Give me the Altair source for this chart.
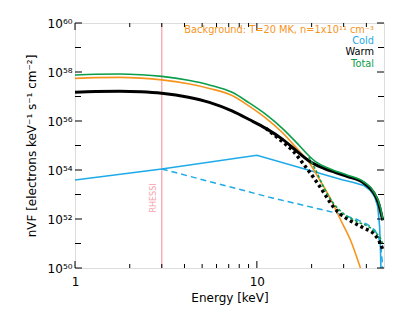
import altair as alt
import pandas as pd

# ---------------- data ----------------
# energies in keV, values are log10 of nVF [electrons keV^-1 s^-1 cm^-2]
bg_E = [1, 1.3, 1.76, 2.3, 3, 4.2, 5.48, 7.35, 9.07, 11.2, 13.8, 17.0, 19.3, 21.9, 25.4, 28.8, 32.7, 37.1]
bg_L = [57.74, 57.77, 57.78, 57.75, 57.68, 57.52, 57.33, 57.03, 56.61, 56.12, 55.53, 54.79, 54.33, 53.66, 52.82, 51.98, 51.14, 50.0]

cold_E = [1, 3, 10, 23.35, 29.4, 34.0, 38.7, 42.0, 44.5, 46.2, 47.3, 47.8, 48.1]
cold_L = [53.59, 54.04, 54.60, 53.82, 53.60, 53.49, 53.37, 53.17, 52.90, 52.50, 51.70, 50.80, 50.0]

cold2_E = [3, 11.7, 28.2, 35.0, 40.5, 44.5, 46.7, 48.0, 48.8, 49.1]
cold2_L = [54.04, 52.89, 52.22, 52.00, 51.78, 51.55, 51.25, 50.85, 50.35, 50.0]

warm_E = [1, 1.3, 1.76, 2.3, 3, 4.2, 5.48, 7.35, 9.07, 11.2, 13.8, 17.0, 19.3, 21.0, 23.35, 26.5, 31.3, 38.7, 43.9, 46.7, 48.7, 49.3]
warm_L = [57.17, 57.20, 57.21, 57.19, 57.13, 56.97, 56.76, 56.40, 56.06, 55.70, 55.26, 54.70, 54.38, 54.22, 54.07, 53.92, 53.74, 53.47, 53.07, 52.64, 52.09, 51.95]

warm2_E = [11.2, 13.8, 15.7, 17.8, 20.2, 21.9, 23.9, 26.5, 28.8, 32.7, 38.7, 43.9, 47.7, 49.3]
warm2_L = [55.70, 55.16, 54.80, 54.30, 53.76, 53.39, 52.96, 52.47, 52.20, 51.93, 51.63, 51.40, 51.01, 50.73]

total_E = [1, 1.3, 1.76, 2.3, 3, 4.2, 5.48, 7.35, 9.07, 11.2, 13.8, 17.0, 19.3, 21.0, 23.35, 26.5, 31.3, 38.7, 43.9, 47.7, 49.3]
total_L = [57.88, 57.91, 57.92, 57.89, 57.82, 57.66, 57.47, 57.16, 56.74, 56.27, 55.70, 55.02, 54.58, 54.34, 54.15, 53.98, 53.80, 53.52, 53.11, 52.50, 51.96]

total2_E = [19.3, 21.0, 23.35, 26.5, 29.7, 35.5, 43.9, 48.7, 49.3]
total2_L = [54.52, 54.02, 53.28, 52.62, 52.24, 51.90, 51.52, 51.07, 50.95]

rhessi_E = [3]

x_major = [1, 10]
x_minor = [2, 3, 4, 5, 6, 7, 8, 9, 20, 30, 40]
y_major_exp = [50, 52, 54, 56, 58, 60]
y_minor_exp = [51, 53, 55, 57, 59]
y_labels = ["10⁵⁰", "10⁵²", "10⁵⁴", "10⁵⁶", "10⁵⁸", "10⁶⁰"]

legend_bg = "Background: T=20 MK, n=1x10¹¹ cm⁻³"
legend_cold = "Cold"
legend_warm = "Warm"
legend_total = "Total"

# ---------------- styling ----------------
ORANGE = "#f7941d"
BLUE = "#1eaae7"
GREEN = "#0a9e4a"
BLACK = "#000000"
PINK = "#f5a3ae"
FONT = "DejaVu Sans"
W, H = 309, 245

series = [
    ("cold2", cold2_E, cold2_L, BLUE, 1.5, [6, 4], "linear"),
    ("cold", cold_E, cold_L, BLUE, 1.6, None, "linear"),
    ("bg", bg_E, bg_L, ORANGE, 1.6, None, "monotone"),
    ("warm2", warm2_E, warm2_L, BLACK, 3.5, [3, 3], "monotone"),
    ("warm", warm_E, warm_L, BLACK, 3.0, None, "monotone"),
    ("total2", total2_E, total2_L, GREEN, 1.6, [3, 2], "monotone"),
    ("total", total_E, total_L, GREEN, 1.6, None, "monotone"),
]

xs = alt.Scale(type="log", domain=[1, 50], nice=False)
ys = alt.Scale(type="log", domain=[1e50, 1e60], nice=False)

label_array = "[" + ",".join("'" + s + "'" for s in y_labels) + "]"

xaxis = alt.Axis(values=x_major, labelExpr="format(datum.value, 'd')", ticks=False, domain=False,
                 grid=False, labelFontSize=12, labelFont=FONT, labelColor="black", labelPadding=8,
                 labelFlush=False, labelOverlap=False,
                 title="Energy [keV]", titleFont=FONT, titleFontSize=12, titleFontWeight="normal",
                 titleColor="black", titlePadding=5)
yaxis = alt.Axis(values=[10.0 ** e for e in y_major_exp],
                 labelExpr=label_array + "[round((log(datum.value)/LN10 - 50)/2)]",
                 ticks=False, domain=False, grid=False, labelFontSize=12, labelFont=FONT,
                 labelColor="black", labelPadding=3, labelFlush=False, labelOverlap=False,
                 title="nVF [electrons keV⁻¹ s⁻¹ cm⁻²]", titleFont=FONT, titleFontSize=12,
                 titleFontWeight="normal", titleColor="black", titlePadding=9)

layers = []

# RHESSI line and label
rh = alt.Chart(pd.DataFrame({"E": rhessi_E}))
layers.append(rh.mark_rule(color=PINK, strokeWidth=1.3).encode(x=alt.X("E:Q", scale=xs, axis=xaxis)))
layers.append(rh.mark_text(angle=270, color=PINK, fontSize=8, font=FONT, dy=-7.5, baseline="middle",
                           align="center").encode(x=alt.X("E:Q", scale=xs, axis=xaxis),
                                                  y=alt.value(175), text=alt.value("RHESSI")))

for name, E, L, col, sw, dash, interp in series:
    d = pd.DataFrame({"E": E, "nvf": [10.0 ** v for v in L]})
    kw = dict(color=col, strokeWidth=sw, clip=True, interpolate=interp)
    if dash:
        kw["strokeDash"] = dash
    layers.append(alt.Chart(d).mark_line(**kw).encode(
        x=alt.X("E:Q", scale=xs, axis=xaxis),
        y=alt.Y("nvf:Q", scale=ys, axis=yaxis),
    ))

# inward ticks on all four sides
def xticks(vals, length):
    c = alt.Chart(pd.DataFrame({"E": vals}))
    bottom = c.mark_rule(color="black", strokeWidth=1).encode(
        x=alt.X("E:Q", scale=xs, axis=xaxis), y=alt.value(H), y2=alt.value(H - length))
    top = c.mark_rule(color="black", strokeWidth=1).encode(
        x=alt.X("E:Q", scale=xs, axis=xaxis), y=alt.value(0), y2=alt.value(length))
    return [bottom, top]

def yticks(exps, length):
    c = alt.Chart(pd.DataFrame({"nvf": [10.0 ** e for e in exps]}))
    left = c.mark_rule(color="black", strokeWidth=1).encode(
        y=alt.Y("nvf:Q", scale=ys, axis=yaxis), x=alt.value(0), x2=alt.value(length))
    right = c.mark_rule(color="black", strokeWidth=1).encode(
        y=alt.Y("nvf:Q", scale=ys, axis=yaxis), x=alt.value(W), x2=alt.value(W - length))
    return [left, right]

layers += xticks(x_major, 7) + xticks(x_minor, 4) + yticks(y_major_exp, 7) + yticks(y_minor_exp, 6)

# legend texts (top right)
def legend(txt, col, ypos):
    return alt.Chart(pd.DataFrame({"t": [txt]})).mark_text(
        align="right", baseline="middle", color=col, fontSize=9.8, font=FONT
    ).encode(x=alt.value(299), y=alt.value(ypos), text="t:N")

layers += [legend(legend_bg, ORANGE, 7), legend(legend_cold, BLUE, 17.7),
           legend(legend_warm, BLACK, 29.3), legend(legend_total, GREEN, 40.5)]

chart = alt.layer(*layers).properties(
    width=W, height=H,
    autosize=alt.AutoSizeParams(type="none"),
    padding={"left": 67, "top": 15, "right": 15, "bottom": 40},
).configure_view(stroke="black", strokeWidth=1.2).configure(background="white")

chart.save("out.html", embed_options={"renderer": "svg", "actions": False})
